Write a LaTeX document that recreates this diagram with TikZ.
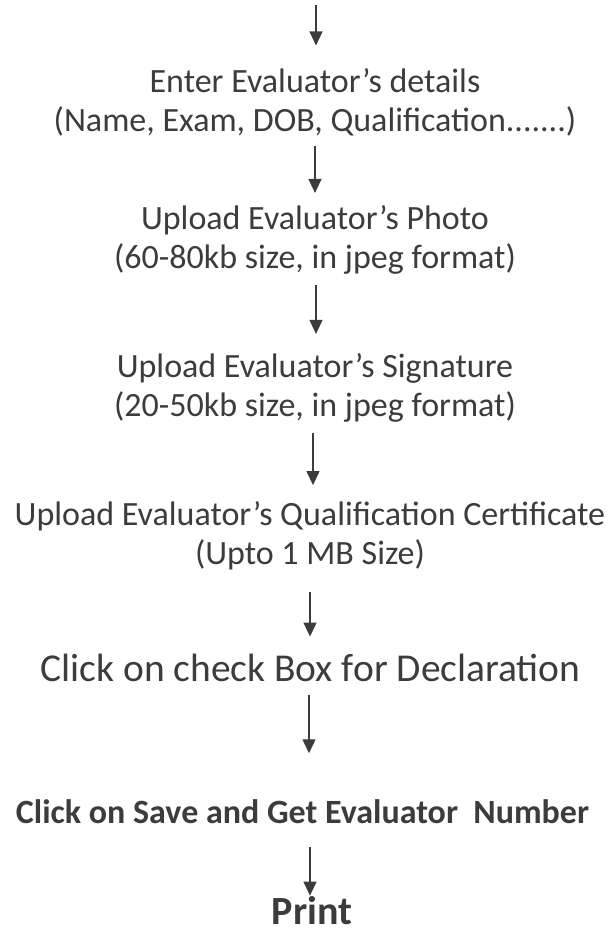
\documentclass[tikz,border=0pt]{standalone}
\usepackage{fontspec}
\setmainfont{Carlito}
\usetikzlibrary{arrows.meta}
\definecolor{ink}{HTML}{3A3D3C}
\begin{document}
\begin{tikzpicture}[x=1pt,y=-1pt,
  txt/.style={inner sep=0pt, align=center, text=ink, font=\fontsize{34}{39}\selectfont},
  bigtxt/.style={inner sep=0pt, text=ink, font=\fontsize{39.5}{44}\selectfont},
  boldtxt/.style={inner sep=0pt, text=ink, font=\fontsize{34}{39}\selectfont\bfseries},
  printtxt/.style={inner sep=0pt, text=ink, font=\fontsize{40}{44}\selectfont\bfseries},
  arr/.style={draw=ink, line width=1.3pt, -{Triangle[length=14pt,width=13pt]}}]
\useasboundingbox (0,0) rectangle (615,932);
\coordinate (top) at (316,5);
\coordinate (ax2) at (315,0);
\coordinate (ax3) at (316,0);
\coordinate (ax4) at (313,0);
\coordinate (ax5) at (310,0);
\coordinate (ax6) at (309,0);
\coordinate (ax7) at (310,0);
\node[txt] (n1) at (315,102.2) {Enter Evaluator’s details\\(Name, Exam, DOB, Qualification.......)};
\node[txt] (n2) at (315,240.2) {Upload Evaluator’s Photo\\(60-80kb size, in jpeg format)};
\node[txt] (n3) at (315,388.2) {Upload Evaluator’s Signature\\(20-50kb size, in jpeg format)};
\node[txt] (n4) at (310,536.2) {Upload Evaluator’s Qualification Certificate\\(Upto 1 MB Size)};
\node[bigtxt] (n5) at (310.5,668) {Click on check Box for Declaration};
\node[boldtxt] (n6) at (302.5,812) {Click on Save and Get Evaluator\ \ Number};
\node[printtxt] (n7) at (312,911) {Print};
\draw[arr, shorten >=22.7pt] (top) -- (top |- n1.north);
\draw[arr, shorten <=9.3pt, shorten >=12.7pt] (n1.south -| ax2) -- (n2.north -| ax2);
\draw[arr, shorten <=10.3pt, shorten >=19.7pt] (n2.south -| ax3) -- (n3.north -| ax3);
\draw[arr, shorten <=10.3pt, shorten >=16.7pt] (n3.south -| ax4) -- (n4.north -| ax4);
\draw[arr, shorten <=21.3pt, shorten >=17.4pt] (n4.south -| ax5) -- (n5.north -| ax5);
\draw[arr, shorten <=13pt, shorten >=46.5pt] (n5.south -| ax6) -- (n6.north -| ax6);
\draw[arr, shorten <=23pt, shorten >=1pt] (n6.south -| ax7) -- (n7.north -| ax7);
\end{tikzpicture}
\end{document}
